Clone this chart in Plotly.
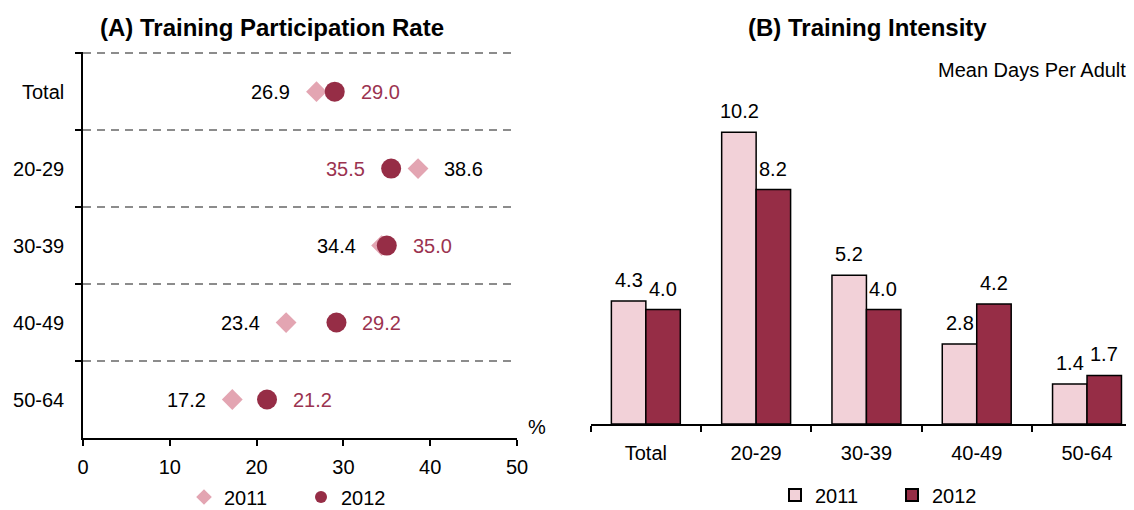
import plotly.graph_objects as go
from plotly.subplots import make_subplots

categories = ["Total", "20-29", "30-39", "40-49", "50-64"]
rate_2011 = [26.9, 38.6, 34.4, 23.4, 17.2]
rate_2012 = [29.0, 35.5, 35.0, 29.2, 21.2]
days_2011 = [4.3, 10.2, 5.2, 2.8, 1.4]
days_2012 = [4.0, 8.2, 4.0, 4.2, 1.7]
x_ticks = [0, 10, 20, 30, 40, 50]

LIGHT_PINK = "#E3A5B2"
DARK = "#962D46"
BAR_LIGHT = "#F2D1D8"
LABEL_DARK = "#9B3350"
FONT = "Liberation Sans, Arial, sans-serif"
FS = 20

# the page body has an 8px margin; the figure fills the rest of the 1134x510 window
OFF = 8
W, H = 1134 - OFF, 510 - OFF


def px(x):
    return (x - OFF) / W


def py(y):
    return 1 - (y - OFF) / H


fig = make_subplots(rows=1, cols=2)

fig.add_trace(go.Scatter(
    x=rate_2011, y=categories, mode="markers", name="2011",
    marker=dict(symbol="diamond", size=16, color=LIGHT_PINK),
    legend="legend2", cliponaxis=False), row=1, col=1)
fig.add_trace(go.Scatter(
    x=rate_2012, y=categories, mode="markers", name="2012",
    marker=dict(symbol="circle", size=20, color=DARK),
    legend="legend2", cliponaxis=False), row=1, col=1)

# value labels for panel A: on the outer side of each pair
for cat, a, b in zip(categories, rate_2011, rate_2012):
    left11 = a < b
    fig.add_annotation(x=a, y=cat, xref="x", yref="y", text=f"{a:.1f}", showarrow=False,
                       xanchor="right" if left11 else "left", xshift=-24 if left11 else 24,
                       font=dict(color="black", size=FS, family=FONT))
    fig.add_annotation(x=b, y=cat, xref="x", yref="y", text=f"{b:.1f}", showarrow=False,
                       xanchor="left" if left11 else "right", xshift=24 if left11 else -24,
                       font=dict(color=LABEL_DARK, size=FS, family=FONT))

fig.add_trace(go.Bar(
    x=categories, y=days_2011, name="2011",
    marker=dict(color=BAR_LIGHT, line=dict(color="black", width=1.5)),
    legend="legend"), row=1, col=2)
fig.add_trace(go.Bar(
    x=categories, y=days_2012, name="2012",
    marker=dict(color=DARK, line=dict(color="black", width=1.5)),
    legend="legend"), row=1, col=2)

# value labels for panel B, above each bar
for cat, a, b in zip(categories, days_2011, days_2012):
    for v, sh in ((a, -17), (b, 17)):
        fig.add_annotation(x=cat, y=v, xref="x2", yref="y2", text=f"{v:.1f}", showarrow=False,
                           xanchor="center", yanchor="bottom", xshift=sh, yshift=8,
                           font=dict(color="black", size=FS, family=FONT))

fig.update_layout(
    width=W, height=H,
    margin=dict(l=0, r=0, t=0, b=0, autoexpand=False),
    paper_bgcolor="white", plot_bgcolor="white",
    font=dict(family=FONT, size=FS, color="black"),
    barmode="group", bargap=0.375, bargroupgap=0,
    legend=dict(orientation="h", x=px(775), xanchor="left", y=py(495), yanchor="middle",
                itemwidth=30, itemsizing="constant", font=dict(size=FS), traceorder="normal",
                entrywidth=72, entrywidthmode="pixels", bgcolor="rgba(0,0,0,0)"),
    legend2=dict(orientation="h", x=px(184), xanchor="left", y=py(497), yanchor="middle",
                 itemwidth=30, itemsizing="constant", font=dict(size=FS), traceorder="normal",
                 entrywidth=72, entrywidthmode="pixels", bgcolor="rgba(0,0,0,0)"),
    showlegend=True,
)

# Left panel axes
fig.update_xaxes(row=1, col=1, domain=[px(83), px(517)], range=[0, 50],
                 tickvals=x_ticks, showgrid=False, zeroline=False,
                 showline=True, linecolor="black", linewidth=1.5,
                 ticks="outside", ticklen=6, tickwidth=1.5, tickcolor="black",
                 ticklabelstandoff=4, tickfont=dict(size=FS))
fig.update_yaxes(row=1, col=1, domain=[py(438), py(52)],
                 type="category", categoryorder="array", categoryarray=categories,
                 range=[4.5, -0.515], tickson="boundaries",
                 showgrid=True, gridcolor="#8C8C8C", gridwidth=1.5, griddash="8px,6px",
                 zeroline=False, showline=True, linecolor="black", linewidth=1.5,
                 ticks="outside", ticklen=6, tickwidth=1.5, tickcolor="black",
                 ticklabelstandoff=13, tickfont=dict(size=FS))

# Right panel axes
fig.update_xaxes(row=1, col=2, domain=[px(590.7), 1.0],
                 type="category", categoryorder="array", categoryarray=categories,
                 range=[-0.5, 4.426], tickson="boundaries",
                 showgrid=False, zeroline=False,
                 showline=True, linecolor="black", linewidth=1.5,
                 ticks="outside", ticklen=6, tickwidth=1.5, tickcolor="black",
                 ticklabelstandoff=10, tickfont=dict(size=FS))
fig.update_yaxes(row=1, col=2, domain=[py(424), py(80)], range=[0, 12.03],
                 visible=False, showgrid=False, zeroline=False)

fig.add_annotation(text="<b>(A) Training Participation Rate</b>", xref="paper", yref="paper",
                   x=px(271.5), y=py(28), xanchor="center", yanchor="middle",
                   showarrow=False, font=dict(size=24, family=FONT))
fig.add_annotation(text="<b>(B) Training Intensity</b>", xref="paper", yref="paper",
                   x=px(868), y=py(28), xanchor="center", yanchor="middle",
                   showarrow=False, font=dict(size=24, family=FONT))
fig.add_annotation(text="Mean Days Per Adult", xref="paper", yref="paper",
                   x=px(1128), y=py(70), xanchor="right", yanchor="middle",
                   showarrow=False, font=dict(size=FS, family=FONT))
fig.add_annotation(text="%", xref="paper", yref="paper",
                   x=px(537), y=py(427), xanchor="center", yanchor="middle",
                   showarrow=False, font=dict(size=FS, family=FONT))

fig.write_html("out.html")
